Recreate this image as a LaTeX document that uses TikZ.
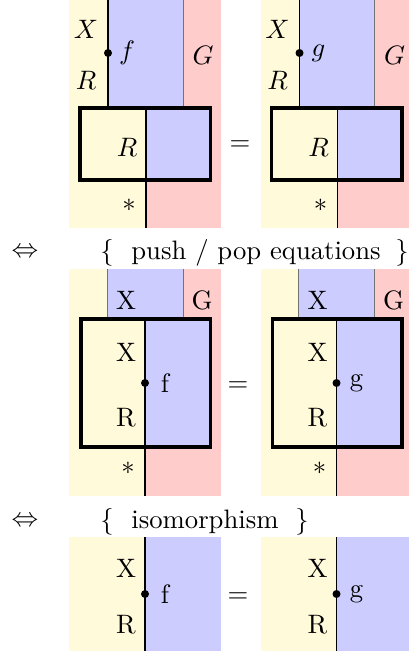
\documentclass[tikz,border=0pt]{standalone}
\definecolor{yel}{RGB}{255,250,218}
\definecolor{blu}{RGB}{204,204,255}
\definecolor{rd}{RGB}{255,204,204}
\tikzset{
  wire/.style={black,line width=0.4pt},
  seam/.style={black!55,line width=0.35pt},
  boxline/.style={black,line width=1.4pt},
  dotn/.style={circle,fill=black,inner sep=0pt,minimum size=3pt},
  lbl/.style={inner sep=0pt,anchor=center},
}
\begin{document}
\begin{tikzpicture}[x=0.375pt,y=-0.375pt]
\useasboundingbox (0,0) rectangle (408,651);
% ---------- top row ----------
\foreach \dx/\p/\lab in {0/L/f,191.5/R/g}{
\begin{scope}[shift={(\dx,0)},name prefix=T\p-]
  \fill[yel] (69,0) rectangle (146,228);
  \fill[rd] (146,0) rectangle (221,228);
  \fill[blu] (108,0) rectangle (183,107);
  \fill[yel] (80,107) rectangle (146,180);
  \fill[blu] (146,107) rectangle (210.5,180);
  \draw[wire] (108,0) -- (108,107);
  \draw[seam] (183,0) -- (183,107);
  \draw[wire] (146,107) -- (146,228);
  \draw[boxline] (80,108) rectangle (210.5,180);
  \node[dotn] (dot) at (108,53) {};
  \node[lbl] (fn) at (127,53) {$\lab$};
  \node[lbl] (x) at (86,29) {$X$};
  \node[lbl] (r) at (86,80) {$R$};
  \node[lbl] (g) at (203,55) {$G$};
  \node[lbl] (rb) at (127,147) {$R$};
  \node[lbl] (st) at (129,205) {$*$};
\end{scope}}
\node[lbl] (eq1) at (240,146) {$=$};
% ---------- middle ----------
\node[lbl] (iff1) at (25,253) {$\Leftrightarrow$};
\node[lbl] (lb1) at (107,253) {$\{$};
\node[lbl] (hint1) at (256,253) {push / pop equations};
\node[lbl] (rb1) at (402,253) {$\}$};
\foreach \dx/\p/\lab in {0/L/f,191.5/R/g}{
\begin{scope}[shift={(\dx,0)},name prefix=M\p-]
  \fill[yel] (69,269) rectangle (145,496);
  \fill[rd] (145,269) rectangle (221,496);
  \fill[blu] (107,269) rectangle (183,318);
  \fill[yel] (81,318) rectangle (145,447);
  \fill[blu] (145,318) rectangle (210.5,447);
  \draw[seam] (107,269) -- (107,318);
  \draw[seam] (183,269) -- (183,318);
  \draw[wire] (145,318) -- (145,496);
  \draw[boxline] (81,319) rectangle (210.5,447);
  \node[dotn] (dot) at (145,383) {};
  \node[lbl] (fn) at (165,383) {\lab};
  \node[lbl] (xt) at (126,300) {X};
  \node[lbl] (g) at (202,300) {G};
  \node[lbl] (x) at (126,352) {X};
  \node[lbl] (r) at (126,418) {R};
  \node[lbl] (st) at (128,468) {$*$};
\end{scope}}
\node[lbl] (eq2) at (238,387) {$=$};
% ---------- bottom ----------
\node[lbl] (iff2) at (25,522) {$\Leftrightarrow$};
\node[lbl] (lb2) at (107,522) {$\{$};
\node[lbl] (hint2) at (205,522) {isomorphism};
\node[lbl] (rb2) at (302,522) {$\}$};
\foreach \dx/\p/\lab in {0/L/f,191.5/R/g}{
\begin{scope}[shift={(\dx,0)},name prefix=B\p-]
  \fill[yel] (69,537) rectangle (145,651);
  \fill[blu] (145,537) rectangle (221,651);
  \draw[wire] (145,537) -- (145,651);
  \node[dotn] (dot) at (145,594) {};
  \node[lbl] (fn) at (165,594) {\lab};
  \node[lbl] (x) at (126,568) {X};
  \node[lbl] (r) at (126,625) {R};
\end{scope}}
\node[lbl] (eq3) at (238,598) {$=$};
\end{tikzpicture}
\end{document}
